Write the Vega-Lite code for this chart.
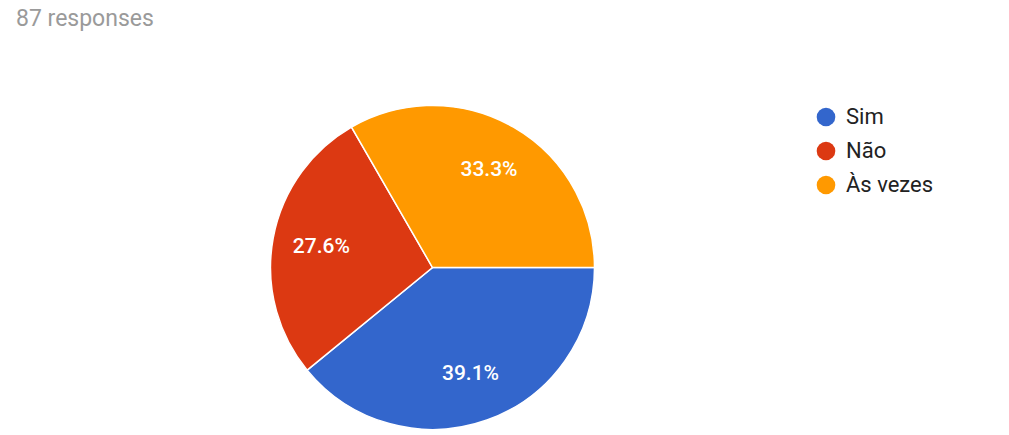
{
  "$schema": "https://vega.github.io/schema/vega-lite/v6.json",
  "autosize": "none",
  "width": 865,
  "height": 335,
  "padding": {"top": 100, "left": 0, "right": 144, "bottom": 0},
  "background": "white",
  "title": {
    "text": "87 responses",
    "anchor": "start",
    "frame": "group",
    "offset": 69,
    "dx": 16,
    "font": "Roboto",
    "fontSize": 23,
    "fontWeight": "normal",
    "color": "#9a9a9a"
  },
  "data": {
    "values": [
      {"answer": "Sim", "count": 34, "ord": 1, "label": "39.1%"},
      {"answer": "Não", "count": 24, "ord": 2, "label": "27.6%"},
      {"answer": "Às vezes", "count": 29, "ord": 3, "label": "33.3%"}
    ]
  },
  "encoding": {
    "theta": {"field": "count", "type": "quantitative", "stack": true, "scale": {"range": [1.5707963, 7.8539816]}},
    "order": {"field": "ord", "type": "quantitative"},
    "color": {
      "field": "answer",
      "type": "nominal",
      "scale": {"domain": ["Sim", "Não", "Às vezes"], "range": ["#3366cc", "#dc3912", "#ff9900"]},
      "legend": {
        "title": null,
        "orient": "none",
        "legendX": 815,
        "legendY": 6,
        "symbolType": "circle",
        "symbolSize": 346,
        "symbolStrokeWidth": 0,
        "rowPadding": 12,
        "labelFont": "Roboto",
        "labelFontSize": 22,
        "labelColor": "#222222",
        "labelOffset": 9,
        "labelLimit": 300
      }
    }
  },
  "layer": [
    {"mark": {"type": "arc", "outerRadius": 162, "stroke": "white", "strokeWidth": 1.5}},
    {
      "mark": {"type": "text", "radius": 113, "font": "Roboto", "fontSize": 21, "fontWeight": 500, "fill": "white"},
      "encoding": {"text": {"field": "label"}, "color": {"value": "white"}}
    }
  ]
}
